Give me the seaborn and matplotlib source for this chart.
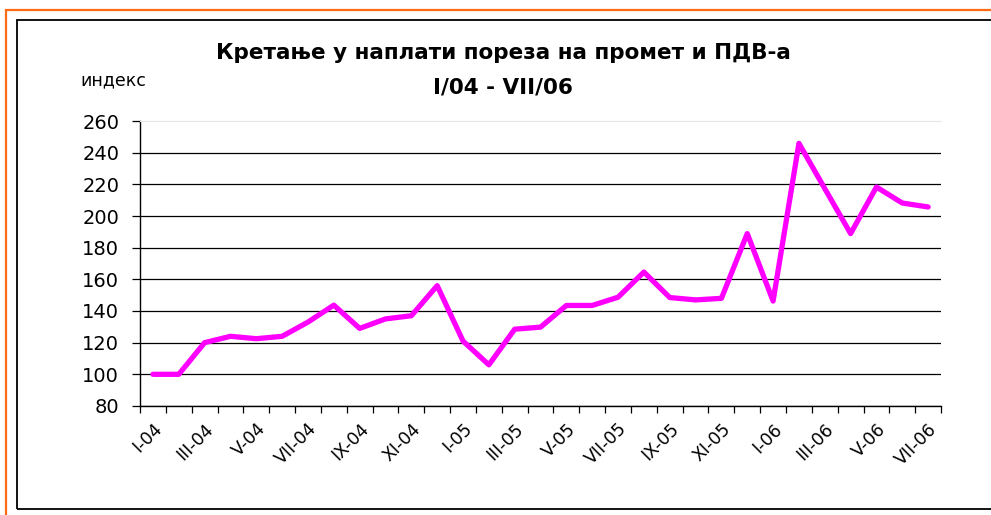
import matplotlib
matplotlib.use("Agg")
import matplotlib.pyplot as plt
import seaborn as sns
import pandas as pd
from matplotlib.patches import Rectangle

# monthly index, I-04 .. VII-06
months = ["I-04", "II-04", "III-04", "IV-04", "V-04", "VI-04", "VII-04", "VIII-04",
          "IX-04", "X-04", "XI-04", "XII-04", "I-05", "II-05", "III-05", "IV-05",
          "V-05", "VI-05", "VII-05", "VIII-05", "IX-05", "X-05", "XI-05", "XII-05",
          "I-06", "II-06", "III-06", "IV-06", "V-06", "VI-06", "VII-06"]
index_values = [100, 100, 120, 124, 122.5, 124, 133, 143.7, 129, 135, 137,
                156, 121, 106, 128.5, 129.8, 143.5, 143.5, 148.7, 164.6, 148.5,
                147, 148, 188.9, 146.3, 245.9, 217.3, 188.9, 218.3, 208.2, 205.7]
y_ticks = [80, 100, 120, 140, 160, 180, 200, 220, 240, 260]

df = pd.DataFrame({"pos": range(len(months)), "month": months, "index": index_values})

sns.set_style("white")
plt.rcParams["font.family"] = ["DejaVu Sans"]
plt.rcParams["text.color"] = "black"
plt.rcParams["xtick.color"] = "black"
plt.rcParams["ytick.color"] = "black"

fig = plt.figure(figsize=(9.91, 5.15), dpi=100)
ax = fig.add_axes([0.1413, 0.2117, 0.8083, 0.5533])

sns.lineplot(data=df, x="pos", y="index", color="#FF00FF", linewidth=3.8, ax=ax)

ax.set_xlim(-0.5, len(months) - 0.5)
ax.set_ylim(80, 260)
ax.set_yticks(y_ticks)
ax.set_yticklabels([str(t) for t in y_ticks], fontsize=14)
ax.yaxis.grid(True, color="black", linewidth=0.9)
ax.get_ygridlines()[-1].set_visible(False)
ax.tick_params(axis="y", length=6, width=0.9, color="black", pad=9, left=True)

# ticks on category boundaries, labels on every other category
ax.set_xticks([i - 0.5 for i in range(len(months) + 1)])
ax.set_xticklabels([])
ax.tick_params(axis="x", which="major", length=5, width=0.9, color="black", bottom=True)
ax.set_xticks(df["pos"][::2], minor=True)
ax.set_xticklabels(df["month"][::2], minor=True, rotation=45, ha="right",
                   rotation_mode="anchor", fontsize=12.5)
ax.tick_params(axis="x", which="minor", length=0, pad=10)

ax.set_xlabel("")
ax.set_ylabel("")
for side in ["left", "bottom"]:
    ax.spines[side].set_color("black")
    ax.spines[side].set_linewidth(1.0)
ax.spines["top"].set_color("#e6e6e6")
ax.spines["right"].set_visible(False)

fig.text(0.508, 0.897, "Кретање у наплати пореза на промет и ПДВ-а",
         ha="center", va="center", fontsize=15.5, fontweight="bold")
fig.text(0.508, 0.831, "I/04 - VII/06", ha="center", va="center",
         fontsize=15.5, fontweight="bold")
fig.text(0.081, 0.843, "индекс", ha="left", va="center", fontsize=12.5)

# outer frames
fig.patches.append(Rectangle((6 / 991, -0.1), 1.1, 1 - 10 / 515 + 0.1,
                             transform=fig.transFigure, fill=False,
                             edgecolor="#FF6A13", linewidth=1.6))
fig.patches.append(Rectangle((17 / 991, 1 - 509 / 515), 1.1, (509 - 20) / 515,
                             transform=fig.transFigure, fill=False,
                             edgecolor="black", linewidth=1.3))

fig.savefig("out.png", dpi=100)
